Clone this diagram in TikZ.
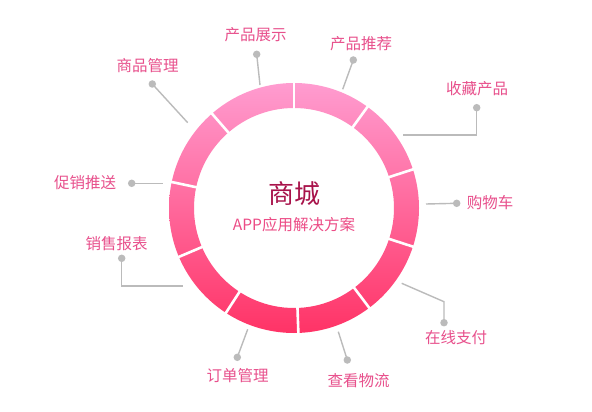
\documentclass[tikz,border=0pt]{standalone}
\usepackage{fontspec}
\usetikzlibrary{calc}
\setmainfont{Noto Sans CJK SC}
\begin{document}
\begin{tikzpicture}[x=1pt,y=-1pt,
  lbl/.style={text=labelpink,font=\fontsize{15.5}{16}\selectfont,inner sep=0pt},
  dotn/.style={circle,fill=dotgray,inner sep=0pt,minimum size=7.5pt},
  conn/.style={draw=dotgray,line width=1.4pt}]
\definecolor{ringtop}{HTML}{FF9CD0}
\definecolor{ringbot}{HTML}{FF3366}
\definecolor{labelpink}{HTML}{E8508C}
\definecolor{titlered}{HTML}{A8124A}
\definecolor{subpink}{HTML}{EC4C86}
\definecolor{dotgray}{HTML}{BBBBBB}
\useasboundingbox[fill=white] (0,0) rectangle (592,412);
\coordinate (c) at (294,208);
% ring
\shade[top color=ringtop,bottom color=ringbot,even odd rule]
  (c) circle (125pt) (c) circle (100pt);
\foreach \a in {-88,-53,-18,18,54,90,131,168,-157,-123}
  \draw[white,line width=2.6pt] ($(c)+(\a:97pt)$) -- ($(c)+(\a:128pt)$);
% center text
\node[text=titlered,font=\fontsize{26}{28}\selectfont,inner sep=0pt] (title) at (294,194) {商城};
\node[text=subpink,font=\fontsize{15.5}{16}\selectfont,inner sep=0pt] (sub) at (294,224.5) {APP应用解决方案};
% labels
\node[lbl] (l1) at (255.5,35) {产品展示};
\node[lbl] (l2) at (361,44) {产品推荐};
\node[lbl] (l3) at (477,89) {收藏产品};
\node[lbl] (l4) at (490,203) {购物车};
\node[lbl] (l5) at (456,338) {在线支付};
\node[lbl] (l6) at (358.7,380.7) {查看物流};
\node[lbl] (l7) at (237.7,375.5) {订单管理};
\node[lbl] (l8) at (116.7,244) {销售报表};
\node[lbl] (l9) at (85,183) {促销推送};
\node[lbl] (l10) at (147.5,66) {商品管理};
% connector ends
\coordinate (e1) at (260,85);
\coordinate (e2) at (342.7,89.3);
\coordinate (k3) at (476.7,135);
\coordinate (e3) at (403.3,135);
\coordinate (e4) at (426,204);
\coordinate (k5) at (444,301.7);
\coordinate (e5) at (401.7,283.3);
\coordinate (e6) at (338.3,331.7);
\coordinate (e7) at (247.7,329.3);
\coordinate (k8) at (121.7,286);
\coordinate (e8) at (182.7,286);
\coordinate (e9) at (162.7,183.3);
\coordinate (e10) at (187.7,122.7);
% connectors
\draw[conn] (256.7,54.3) coordinate (p1) -- (e1);
\draw[conn] (353.3,60) coordinate (p2) -- (e2);
\draw[conn] (476.7,107.7) coordinate (p3) -- (k3) -- (e3);
\draw[conn] (456.7,203.3) coordinate (p4) -- (e4);
\draw[conn] (444,322.7) coordinate (p5) -- (k5) -- (e5);
\draw[conn] (347.3,360) coordinate (p6) -- (e6);
\draw[conn] (237.3,357.3) coordinate (p7) -- (e7);
\draw[conn] (121.7,258.3) coordinate (p8) -- (k8) -- (e8);
\draw[conn] (131.7,183.3) coordinate (p9) -- (e9);
\draw[conn] (152.3,84) coordinate (p10) -- (e10);
% dots
\foreach \i in {1,...,10}
  \node[dotn] (d\i) at (p\i) {};
\end{tikzpicture}
\end{document}
